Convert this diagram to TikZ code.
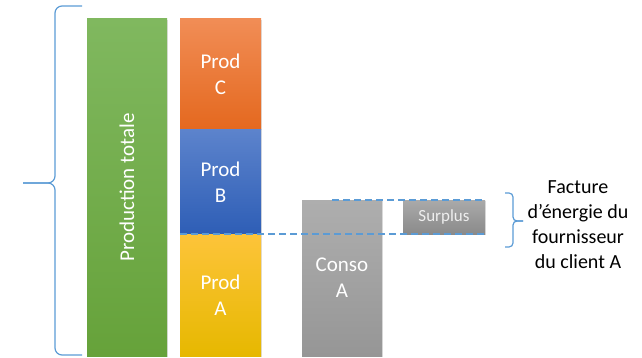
\documentclass[tikz,border=0pt]{standalone}
\usepackage{fontspec}
\setmainfont{Carlito}
\usetikzlibrary{shadows}

\definecolor{bluebrace}{HTML}{5B9BD5}
\tikzset{
  bar/.style={minimum width=80pt,inner sep=0pt,outer sep=0pt,text=white,align=center,
    font=\fontsize{21}{26}\selectfont,
    drop shadow={opacity=0.25,shadow xshift=1pt,shadow yshift=-1pt}},
  brace/.style={bluebrace,line width=1.2pt,rounded corners=7pt},
  level/.style={bluebrace,line width=1.2pt,dash pattern=on 7pt off 4pt}
}

\begin{document}
\begin{tikzpicture}[x=1pt,y=-1pt]
\useasboundingbox (0,0) rectangle (642,358);

\node[bar,minimum height=337pt,top color={rgb,255:red,128;green,184;blue,95},bottom color={rgb,255:red,102;green,162;blue,58}] (total) at (127,187.5) {};
\node[text=white,rotate=90,font=\fontsize{21}{26}\selectfont] (totaltext) at (total.center) {Production totale};

\node[bar,minimum width=81pt,minimum height=111pt,top color={rgb,255:red,241;green,141;blue,86},bottom color={rgb,255:red,228;green,104;blue,30}] (prodC) at (220.5,74.5) {Prod\\C};
\node[bar,minimum width=81pt,minimum height=104pt,top color={rgb,255:red,92;green,131;blue,204},bottom color={rgb,255:red,46;green,94;blue,182}] (prodB) at (220.5,182) {Prod\\B};
\node[bar,minimum width=81pt,minimum height=122pt,top color={rgb,255:red,253;green,196;blue,58},bottom color={rgb,255:red,230;green,184;blue,0}] (prodA) at (220.5,295) {Prod\\A};

\node[bar,minimum height=156pt,top color={rgb,255:red,174;green,174;blue,174},bottom color={rgb,255:red,150;green,150;blue,150}] (conso) at (342,278) {Conso\\A};
\node[bar,minimum width=82pt,minimum height=34pt,font=\fontsize{17}{20}\selectfont,text={rgb,255:red,238;green,238;blue,238},top color={rgb,255:red,170;green,170;blue,170},bottom color={rgb,255:red,138;green,138;blue,138}] (surplus) at (444,217) {Surplus};

% niveaux de la consommation
\coordinate (consotop) at (332,200);
\draw[level] (consotop) -- (surplus.north east);
\draw[level] (prodA.north west) -- (surplus.south east);

% accolades
\draw[brace] (82,6) -- (55,6) -- (55,183) -- (23,183);
\draw[brace] (82,355) -- (55,355) -- (55,183) -- (23,183);
\draw[brace,rounded corners=4pt] (505,193) -- (513,193) -- (513,221) -- (523,221);
\draw[brace,rounded corners=4pt] (505,247) -- (513,247) -- (513,221) -- (523,221);

\node[align=center,font=\fontsize{20}{25}\selectfont] (facture) at (578,225) {Facture\\d’énergie du\\fournisseur\\du client A};
\end{tikzpicture}
\end{document}
